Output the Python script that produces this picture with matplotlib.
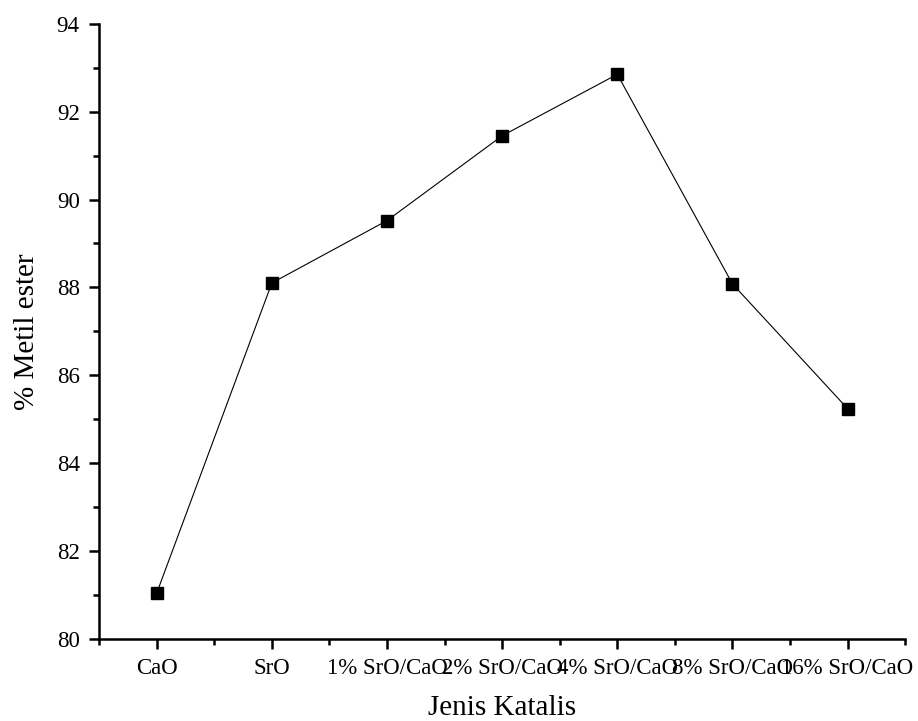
import numpy as np
import matplotlib
matplotlib.use('Agg')
import matplotlib.pyplot as plt
from matplotlib.ticker import MultipleLocator, FixedLocator

plt.rcParams['font.family'] = ['Liberation Serif', 'DejaVu Serif']

katalis = ['CaO', 'SrO', '1% SrO/CaO', '2% SrO/CaO', '4% SrO/CaO', '8% SrO/CaO', '16% SrO/CaO']
metil_ester = [81.04, 88.10, 89.52, 91.45, 92.85, 88.08, 85.24]

fig = plt.figure(figsize=(9.18, 7.21), dpi=100)
ax = fig.add_axes([0.108, 0.114, 0.878, 0.853])

x = np.arange(len(katalis))
ax.plot(x, metil_ester, color='black', lw=0.8, marker='s', ms=8.5,
        markerfacecolor='black', markeredgecolor='black')

ax.set_xlim(-0.5, len(katalis) - 0.5)
ax.set_ylim(80, 94)

ax.spines['top'].set_visible(False)
ax.spines['right'].set_visible(False)
ax.spines['left'].set_linewidth(1.8)
ax.spines['bottom'].set_linewidth(1.8)

ax.set_xticks(x)
ax.set_xticklabels(katalis)
ax.xaxis.set_minor_locator(FixedLocator(np.arange(-0.5, len(katalis), 1)))
ax.yaxis.set_major_locator(MultipleLocator(2))
ax.yaxis.set_minor_locator(MultipleLocator(1))

ax.tick_params(which='major', direction='out', length=7, width=1.8, labelsize=16.5, pad=7)
ax.tick_params(which='minor', direction='out', length=4, width=1.8)

ax.set_xlabel('Jenis Katalis', fontsize=21, labelpad=11)
ax.set_ylabel('% Metil ester', fontsize=21, labelpad=12)

fig.savefig('out.png', dpi=100)
